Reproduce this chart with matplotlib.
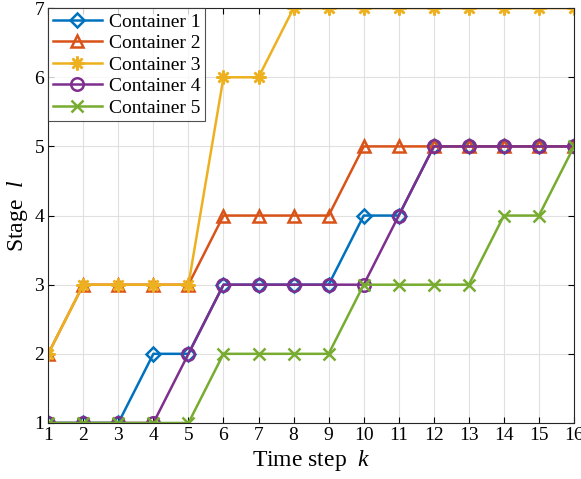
import matplotlib.pyplot as plt

plt.rcParams['font.family'] = ['Liberation Serif', 'DejaVu Serif']
plt.rcParams['mathtext.fontset'] = 'custom'
plt.rcParams['mathtext.it'] = 'Liberation Serif:italic'
plt.rcParams['mathtext.rm'] = 'Liberation Serif'

# Stage of each container at every time step
steps = list(range(1, 17))
container1 = [1, 1, 1, 2, 2, 3, 3, 3, 3, 4, 4, 5, 5, 5, 5, 5]
container2 = [2, 3, 3, 3, 3, 4, 4, 4, 4, 5, 5, 5, 5, 5, 5, 5]
container3 = [2, 3, 3, 3, 3, 6, 6, 7, 7, 7, 7, 7, 7, 7, 7, 7]
container4 = [1, 1, 1, 1, 2, 3, 3, 3, 3, 3, 4, 5, 5, 5, 5, 5]
container5 = [1, 1, 1, 1, 1, 2, 2, 2, 2, 3, 3, 3, 3, 4, 4, 5]

names = ['Container 1', 'Container 2', 'Container 3', 'Container 4', 'Container 5']
colors = ['#0072BD', '#D95319', '#EDB120', '#7E2F8E', '#77AC30']
markers = ['D', '^', (8, 2, 0), 'o', 'x']
sizes = [7, 9, 10, 9, 8]

fig = plt.figure(figsize=(5.81, 4.79), dpi=100)
ax = fig.add_axes([0.083, 0.117, 0.905, 0.866])

series = [container1, container2, container3, container4, container5]
for vals, name, c, m, s in zip(series, names, colors, markers, sizes):
    ax.plot(steps, vals, color=c, marker=m, markersize=s, markerfacecolor='none',
            markeredgecolor=c, markeredgewidth=1.8, linewidth=1.8, label=name)

ax.set_xlim(1, 16)
ax.set_ylim(1, 7)
ax.set_xticks(steps)
ax.set_yticks(range(1, 8))
ax.tick_params(direction='in', labelsize=14, top=True, right=True, length=4, pad=3)
ax.grid(True, color='#e0e0e0', linewidth=0.8)
ax.set_axisbelow(True)
for sp in ax.spines.values():
    sp.set_color('#262626')
    sp.set_linewidth(0.8)

ax.set_xlabel(r'Time step  $k$', fontsize=17, labelpad=3)
ax.set_ylabel(r'Stage  $l$', fontsize=17, labelpad=3)

leg = ax.legend(loc='upper left', fontsize=14, frameon=True, fancybox=False,
                edgecolor='#262626', borderaxespad=0, handlelength=2.5,
                labelspacing=0.2, borderpad=0.25, handletextpad=0.35)
leg.get_frame().set_linewidth(0.8)

fig.savefig('out.png', dpi=100)
